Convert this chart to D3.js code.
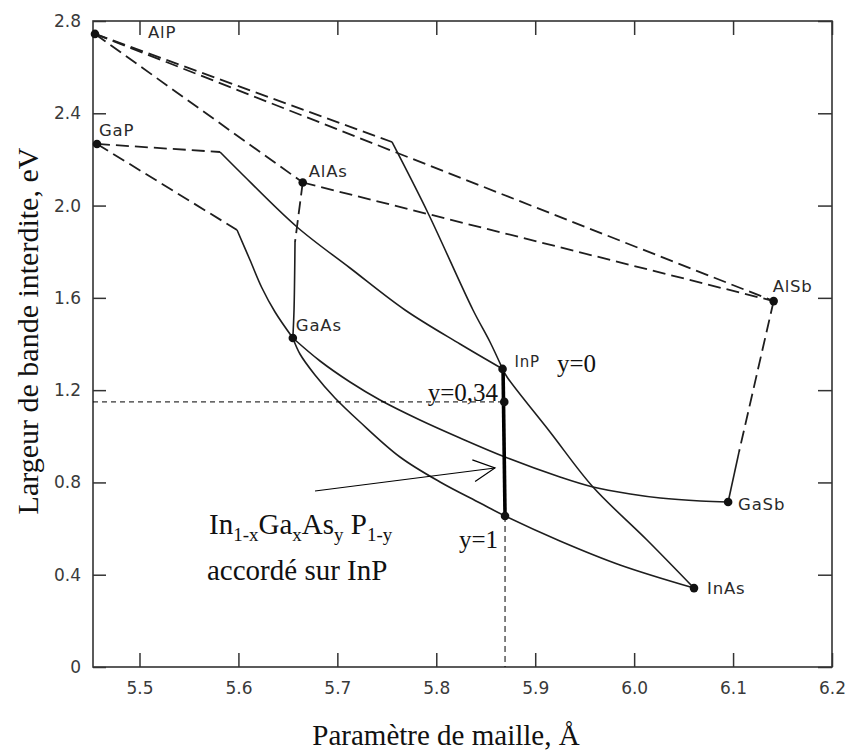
<!DOCTYPE html>
<html><head><meta charset="utf-8">
<script src="https://cdn.jsdelivr.net/npm/d3@7"></script>
<style>body{margin:0;background:#fff}</style>
</head><body>
<svg id="c" width="852" height="756"></svg>
<script>
// ---------- data ----------
const xTicks = [5.5, 5.6, 5.7, 5.8, 5.9, 6.0, 6.1, 6.2];
const yTicks = [0, 0.4, 0.8, 1.2, 1.6, 2.0, 2.4, 2.8];
const compounds = ["AlP", "GaP", "AlAs", "GaAs", "InP", "AlSb", "GaSb", "InAs"];
const compX = [5.455, 5.457, 5.665, 5.655, 5.867, 6.141, 6.095, 6.0605];
const compY = [2.744, 2.267, 2.100, 1.426, 1.292, 1.586, 0.715, 0.342];

// dashed (indirect) segments
const alpAlsb = [[5.455, 2.744], [6.141, 1.586]];
const alpAlas = [[5.455, 2.744], [5.665, 2.100]];
const alasAlsb = [[5.665, 2.100], [6.141, 1.586]];
const alpInpDash = [[5.455, 2.744], [5.7552, 2.2756]];
const gapInpDash = [[5.457, 2.267], [5.5814, 2.2322]];
const gapGaasDash = [[5.457, 2.267], [5.5986, 1.8941]];
const alasGaasDash = [[5.665, 2.100], [5.6572, 1.8421]];
const alsbGasbDash = [[6.141, 1.586], [6.1060, 0.9319]];

// solid (direct) segments
const alpInpSolid = [[5.7552, 2.2756], [5.7916, 1.9678], [5.8371, 1.5474], [5.8543, 1.4087], [5.867, 1.292]];
const inpInas = [[5.867, 1.292], [5.8715, 1.257], [5.9150, 1.0186], [5.9584, 0.7802], [6.0130, 0.5505], [6.0605, 0.342]];
const gapInpSolid = [[5.5814, 2.2322], [5.6016, 2.1455], [5.6592, 1.9072], [5.7128, 1.7294], [5.7684, 1.5474], [5.8240, 1.4000], [5.867, 1.292]];
const gapGaasSolid = [[5.5986, 1.8941], [5.6117, 1.7641], [5.6238, 1.6428], [5.6370, 1.5387], [5.655, 1.426]];
const alasGaasSolid = [[5.6572, 1.8421], [5.6562, 1.5474], [5.655, 1.426]];
const alsbGasbSolid = [[6.1060, 0.9319], [6.095, 0.715]];
const gaasGasb = [[5.655, 1.426], [5.6825, 1.3263], [5.7128, 1.2353], [5.7431, 1.1573], [5.7835, 1.0706], [5.8240, 0.9926], [5.8695, 0.9102], [5.9250, 0.8235], [5.9584, 0.7802], [5.9961, 0.7499], [6.0265, 0.7325], [6.0670, 0.7195], [6.095, 0.715]];
const gaasInas = [[5.655, 1.426], [5.6622, 1.3567], [5.6774, 1.2657], [5.6976, 1.1660], [5.7229, 1.0619], [5.7633, 0.9102], [5.8038, 0.8019], [5.8442, 0.7108], [5.8695, 0.6545], [5.9250, 0.5461], [5.9857, 0.4421], [6.0605, 0.342]];

// InGaAsP lattice matched to InP
const matchLine = [[5.8675, 1.29], [5.8695, 0.6545]];
const matchPoints = [[5.8687, 1.149], [5.8695, 0.6545]];
const refY = 1.149;
const refX = 5.8695;
const refYBottom = 0.6545;
const arrowFrom = [5.6774, 0.7629];
const arrowTo = [5.8593, 0.8626];

// ---------- drawing ----------
const svg = d3.select("#c");
const L = 93, R = 832, T = 21, B = 667;
const x = d3.scaleLinear().domain([5.453, 6.2]).range([L, R]);
const y = d3.scaleLinear().domain([0, 2.8]).range([B, T]);
const ink = "#1e1e1e";
const tickFont = "DejaVu Sans, sans-serif";
const serif = "Liberation Serif, Times New Roman, serif";

const fmt = v => v === 0 ? "0" : d3.format(".1f")(v);

// axes
const axB = svg.append("g").attr("transform", `translate(0,${B})`)
  .call(d3.axisBottom(x).tickValues(xTicks).tickFormat(fmt).tickSizeInner(-14).tickSizeOuter(0).tickPadding(15));
const axT = svg.append("g").attr("transform", `translate(0,${T})`)
  .call(d3.axisTop(x).tickValues(xTicks).tickFormat("").tickSizeInner(-14).tickSizeOuter(0));
const axL = svg.append("g").attr("transform", `translate(${L},0)`)
  .call(d3.axisLeft(y).tickValues(yTicks).tickFormat(fmt).tickSizeInner(-13).tickSizeOuter(0).tickPadding(12));
const axR = svg.append("g").attr("transform", `translate(${R},0)`)
  .call(d3.axisRight(y).tickValues(yTicks).tickFormat("").tickSizeInner(-14).tickSizeOuter(0));
[axB, axT, axL, axR].forEach(g => {
  g.select(".domain").remove();
  g.selectAll(".tick line").attr("stroke", "#333").attr("stroke-width", 1.5);
  g.selectAll("text").attr("font-family", tickFont).attr("font-size", 17).attr("fill", "#3a3a3a");
});
svg.append("rect").attr("x", L).attr("y", T).attr("width", R - L).attr("height", B - T)
  .attr("fill", "none").attr("stroke", "#333").attr("stroke-width", 1.6);

// curves
const line = d3.line().x(d => x(d[0])).y(d => y(d[1])).curve(d3.curveCatmullRom.alpha(0.5));
const dashed = [alpAlsb, alpAlas, alasAlsb, alpInpDash, gapInpDash, gapGaasDash, alasGaasDash, alsbGasbDash];
const solid = [alpInpSolid, inpInas, gapInpSolid, gapGaasSolid, alasGaasSolid, alsbGasbSolid, gaasGasb, gaasInas];
svg.append("g").selectAll("path").data(dashed).join("path")
  .attr("d", line).attr("fill", "none").attr("stroke", ink).attr("stroke-width", 1.8)
  .attr("stroke-dasharray", "13,6");
svg.append("g").selectAll("path").data(solid).join("path")
  .attr("d", line).attr("fill", "none").attr("stroke", ink).attr("stroke-width", 1.6);

// reference dashed lines
svg.append("line").attr("x1", x.range()[0]).attr("x2", x(refX)).attr("y1", y(refY)).attr("y2", y(refY))
  .attr("stroke", "#000").attr("stroke-width", 1).attr("stroke-dasharray", "5,4");
svg.append("line").attr("x1", x(refX)).attr("x2", x(refX)).attr("y1", y(refYBottom)).attr("y2", y(0))
  .attr("stroke", "#000").attr("stroke-width", 1).attr("stroke-dasharray", "6,4");

// thick matched line
svg.append("path").attr("d", d3.line().x(d => x(d[0])).y(d => y(d[1]))(matchLine))
  .attr("stroke", "#000").attr("stroke-width", 3.6).attr("fill", "none");

// compound dots and labels
const labelOff = {AlP: [53, 4], GaP: [2, -8], AlAs: [6, -6], GaAs: [3, -7], InP: [12, -2], AlSb: [-1, -9], GaSb: [10, 8], InAs: [13, 6]};
compounds.forEach((c, i) => {
  svg.append("circle").attr("cx", x(compX[i])).attr("cy", y(compY[i])).attr("r", 4.3).attr("fill", "#111");
  svg.append("text").attr("x", x(compX[i]) + labelOff[c][0]).attr("y", y(compY[i]) + labelOff[c][1])
    .attr("font-family", tickFont).attr("font-size", c === "InP" ? 15 : 16.5).attr("letter-spacing", 0.8)
    .attr("fill", "#2a2a2a").text(c);
});
matchPoints.forEach(p => {
  svg.append("circle").attr("cx", x(p[0])).attr("cy", y(p[1])).attr("r", 4.3).attr("fill", "#111");
});

// arrow
const ax1 = x(arrowFrom[0]), ay1 = y(arrowFrom[1]), ax2 = x(arrowTo[0]), ay2 = y(arrowTo[1]);
svg.append("line").attr("x1", ax1).attr("y1", ay1).attr("x2", ax2).attr("y2", ay2)
  .attr("stroke", "#000").attr("stroke-width", 1.2);
const ang = Math.atan2(ay2 - ay1, ax2 - ax1), hl = 24, hw = 0.47;
svg.append("path").attr("d",
  `M${ax2 - hl * Math.cos(ang - hw)},${ay2 - hl * Math.sin(ang - hw)}L${ax2},${ay2}L${ax2 - hl * Math.cos(ang + hw)},${ay2 - hl * Math.sin(ang + hw)}`)
  .attr("fill", "none").attr("stroke", "#000").attr("stroke-width", 1.2);

// annotations (serif)
const ann = (tx, ty, s, anchor, size) => svg.append("text").attr("x", tx).attr("y", ty)
  .attr("font-family", serif).attr("font-size", size).attr("text-anchor", anchor).attr("fill", "#111").text(s);
ann(557, 372, "y=0", "start", 25);
ann(498, 401, "y=0,34", "end", 25);
ann(498, 548, "y=1", "end", 25);

const f = svg.append("text").attr("x", 209).attr("y", 534).attr("font-family", serif).attr("font-size", 29).attr("fill", "#111");
const parts = [["In", 0], ["1-x", 1], ["Ga", 0], ["x", 1], ["As", 0], ["y", 1], [" P", 0], ["1-y", 1]];
parts.forEach(([t, sub]) => {
  f.append("tspan").attr("font-size", sub ? 19 : 29).attr("baseline-shift", sub ? "-7px" : null)
    .text(t);
});
ann(207, 580, "accordé sur InP", "start", 29);

// axis titles
svg.append("text").attr("x", 446).attr("y", 745).attr("text-anchor", "middle")
  .attr("font-family", serif).attr("font-size", 29).attr("fill", "#111").text("Paramètre de maille, Å");
svg.append("text").attr("transform", "translate(38,331) rotate(-90)").attr("text-anchor", "middle")
  .attr("font-family", serif).attr("font-size", 30).attr("fill", "#111").text("Largeur de bande interdite, eV");
</script>
</body></html>
